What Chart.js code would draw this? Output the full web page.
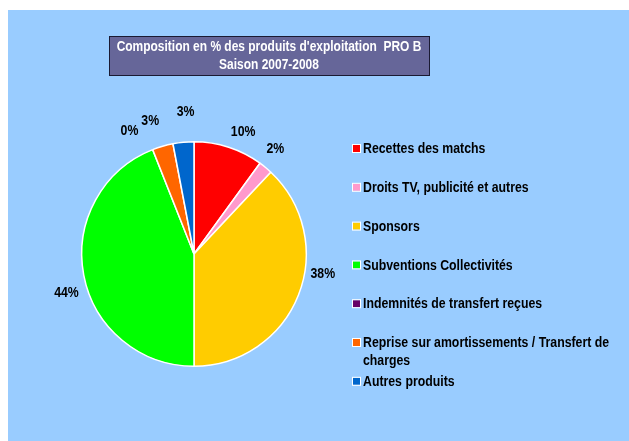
<!DOCTYPE html>
<html>
<head>
<meta charset="utf-8">
<title>Produits d'exploitation PRO B</title>
<script src="https://cdn.jsdelivr.net/npm/chart.js@4/dist/chart.umd.min.js"></script>
<style>
    html, body { margin: 0; padding: 0; background: #ffffff; }
    #wrap { position: relative; width: 629px; height: 441px; }
</style>
</head>
<body>
<div id="wrap"><canvas id="pieChart" width="629" height="441"></canvas></div>
<script>
// Composition des produits d'exploitation (en %), saison 2007-2008
const categories = [
    'Recettes des matchs',
    'Droits TV, publicité et autres',
    'Sponsors',
    'Subventions Collectivités',
    'Indemnités de transfert reçues',
    'Reprise sur amortissements / Transfert de charges',
    'Autres produits'
];
const shares = [10, 2, 38, 44, 0, 3, 3];
const sliceColors = ['#FF0000', '#FF99CC', '#FFCC00', '#00FF00', '#660066', '#FF6600', '#0066CC'];
const titleLines = ["Composition en % des produits d'exploitation  PRO B", 'Saison 2007-2008'];

// label placement around the pie: angle tweak (deg) and gap from the rim (px)
const labelNudgeDeg = [4, -2, -13, -6, -6, -2, 2];
const labelGap = [19, 21, 18, 21, 27, 28, 30];

// no narrow font available, so squeeze a regular bold face horizontally
const FONT = 'bold 15px "Liberation Sans", Arial, sans-serif';
const TITLE_FONT = 'bold 14.6px "Liberation Sans", Arial, sans-serif';
const NARROW = 0.82;

function narrowText(ctx, text, x, y) {
    ctx.save();
    ctx.translate(x, y);
    ctx.scale(NARROW, 1);
    ctx.fillText(text, 0, 0);
    ctx.restore();
}

function narrowWidth(ctx, text) {
    return ctx.measureText(text).width * NARROW;
}

// light blue plot background + framed title box
const backgroundPlugin = {
    id: 'background',
    beforeDraw(chart) {
        const ctx = chart.ctx;
        ctx.save();
        ctx.fillStyle = '#ffffff';
        ctx.fillRect(0, 0, chart.width, chart.height);
        ctx.fillStyle = '#99CCFF';
        ctx.fillRect(8, 10, chart.width - 8, chart.height - 10);

        // title box
        ctx.fillStyle = '#666699';
        ctx.fillRect(110, 37, 319, 38);
        ctx.strokeStyle = '#1a1a33';
        ctx.lineWidth = 1;
        ctx.strokeRect(109.5, 36.5, 320, 39);
        ctx.fillStyle = '#ffffff';
        ctx.font = TITLE_FONT;
        ctx.textAlign = 'center';
        ctx.textBaseline = 'middle';
        narrowText(ctx, titleLines[0], 269, 47);
        narrowText(ctx, titleLines[1], 269, 65);
        ctx.restore();
    }
};

// percentage labels outside each slice
const sliceLabelPlugin = {
    id: 'sliceLabels',
    afterDatasetsDraw(chart) {
        const ctx = chart.ctx;
        const meta = chart.getDatasetMeta(0);
        ctx.save();
        ctx.font = FONT;
        ctx.fillStyle = '#000000';
        ctx.textAlign = 'center';
        ctx.textBaseline = 'middle';
        meta.data.forEach((arc, i) => {
            const mid = (arc.startAngle + arc.endAngle) / 2 + labelNudgeDeg[i] * Math.PI / 180;
            const r = arc.outerRadius + labelGap[i];
            narrowText(ctx, shares[i] + '%', arc.x + Math.cos(mid) * r, arc.y + Math.sin(mid) * r);
        });
        ctx.restore();
    }
};

// legend on the right, long names wrapped
const legendPlugin = {
    id: 'sideLegend',
    afterDraw(chart) {
        const ctx = chart.ctx;
        const left = 353;
        const top = 149;
        const step = 38.8;
        const maxWidth = 255;
        ctx.save();
        ctx.font = FONT;
        ctx.textAlign = 'left';
        ctx.textBaseline = 'middle';
        categories.forEach((name, i) => {
            const y = top + i * step;
            ctx.fillStyle = sliceColors[i];
            ctx.fillRect(left, y - 4, 7, 7);
            ctx.strokeStyle = '#ffffff';
            ctx.lineWidth = 1;
            ctx.strokeRect(left - 0.5, y - 4.5, 8, 8);

            // simple word wrap
            const words = name.split(' ');
            const lines = [];
            let line = '';
            words.forEach(w => {
                const test = line ? line + ' ' + w : w;
                if (narrowWidth(ctx, test) > maxWidth && line) {
                    lines.push(line);
                    line = w;
                } else {
                    line = test;
                }
            });
            lines.push(line);
            ctx.fillStyle = '#000000';
            lines.forEach((l, k) => narrowText(ctx, l, left + 10, y + k * 18));
        });
        ctx.restore();
    }
};

const ctx = document.getElementById('pieChart').getContext('2d');
new Chart(ctx, {
    type: 'pie',
    data: {
        labels: categories,
        datasets: [{
            data: shares,
            backgroundColor: sliceColors,
            borderColor: '#ffffff',
            borderWidth: 1.5
        }]
    },
    options: {
        responsive: false,
        animation: false,
        events: [],
        layout: {
            padding: { left: 81, top: 141, right: 322, bottom: 74 }
        },
        plugins: {
            legend: { display: false },
            title: { display: false },
            tooltip: { enabled: false }
        }
    },
    plugins: [backgroundPlugin, sliceLabelPlugin, legendPlugin]
});
</script>
</body>
</html>
